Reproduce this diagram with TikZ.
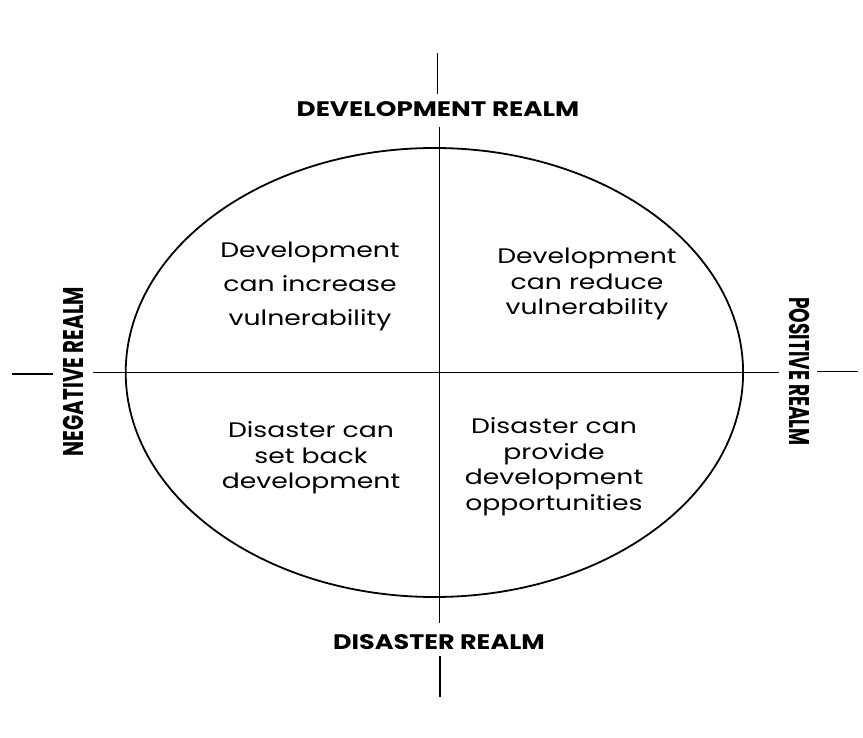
\documentclass[tikz,border=0pt]{standalone}
\usepackage{fontspec}
\usetikzlibrary{shapes.geometric}
\setmainfont{Poppins}
\newfontfamily\widefont{Poppins}[FakeStretch=1.27]
\newfontfamily\widebold{Poppins}[FakeStretch=1.25]
\begin{document}
\begin{tikzpicture}[x=1pt,y=-1pt,
  axis/.style={line width=1.8pt},
  tick/.style={line width=1.4pt},
  realm/.style={font=\widebold\fontsize{21}{24}\selectfont\bfseries, inner sep=0pt},
  siderealm/.style={font=\fontsize{28.5}{30}\selectfont\bfseries, inner sep=0pt},
  quad/.style={font=\widefont\fontsize{21}{25.5}\selectfont, align=center, inner sep=0pt}]
\useasboundingbox (0,0) rectangle (863,738);
\node[draw, ellipse, minimum width=617.4pt, minimum height=449pt, line width=1.8pt, inner sep=0pt] (ell) at (434.4,372.5) {};
\coordinate (vt) at (439.5,127);
\coordinate (vb) at (439.5,623);
\coordinate (hl) at (93,372.5);
\coordinate (hr) at (779,372.5);
\draw[axis] (vt) -- (vb);
\draw[axis] (hl) -- (hr);
\coordinate (tt1) at (437.7,53);
\coordinate (tt2) at (437.7,94);
\coordinate (bt1) at (440,656);
\coordinate (bt2) at (440,697);
\coordinate (lt1) at (12,374);
\coordinate (lt2) at (53,374);
\coordinate (rt1) at (817,371.5);
\coordinate (rt2) at (858,371.5);
\draw[tick] (tt1) -- (tt2);
\draw[tick] (bt1) -- (bt2);
\draw[tick] (lt1) -- (lt2);
\draw[tick] (rt1) -- (rt2);
\node[realm] (dev) at (438,109) {DEVELOPMENT REALM};
\node[realm] (dis) at (439,642) {\scalebox{0.97}[1]{DISASTER REALM}};
\node[siderealm, rotate=90] (neg) at (73,371.5) {\scalebox{0.70}[1]{NEGATIVE REALM}};
\node[siderealm, rotate=-90] (pos) at (800,371.5) {\scalebox{0.65}[1]{POSITIVE REALM}};
\node[quad, font=\widefont\fontsize{21}{34}\selectfont] (q1) at (310,286.5) {Development\\can increase\\vulnerability};
\node[quad] (q2) at (587,284) {Development\\can reduce\\vulnerability};
\node[quad] (q3) at (311,458) {Disaster can\\set back\\development};
\node[quad] (q4) at (554,466.5) {Disaster can\\provide\\development\\opportunities};
\end{tikzpicture}
\end{document}
